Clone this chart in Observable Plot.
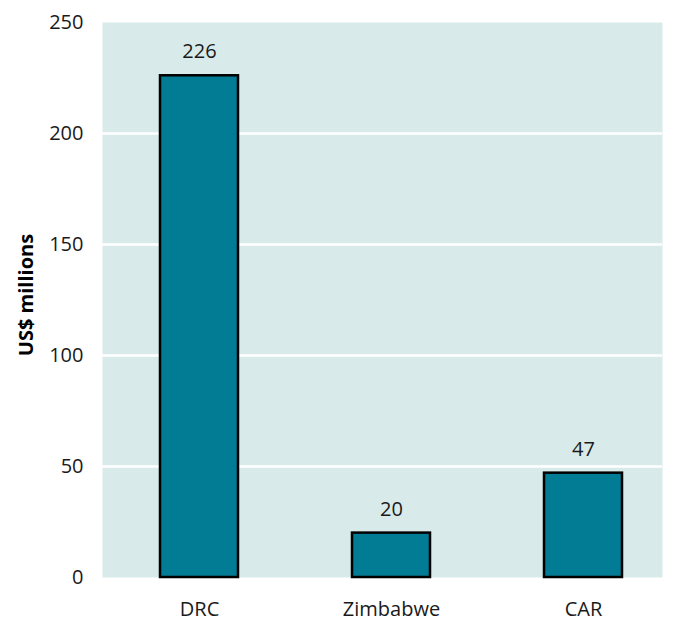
<!DOCTYPE html>
<html>
<head>
<meta charset="utf-8">
<script src="https://cdn.jsdelivr.net/npm/d3@7"></script>
<script src="https://cdn.jsdelivr.net/npm/@observablehq/plot@0.6"></script>
<style>
  html, body { margin: 0; padding: 0; background: #ffffff; }
  #chart svg { display: block; }
</style>
</head>
<body>
<div id="chart"></div>
<script>
const countries = ["DRC", "Zimbabwe", "CAR"];
const values = [226, 20, 47];
const yTicks = [0, 50, 100, 150, 200, 250];
const yLabel = "US$ millions";

const data = countries.map((c, i) => ({country: c, value: values[i]}));

const chart = Plot.plot({
  width: 681,
  height: 621,
  marginLeft: 102,
  marginRight: 19,
  marginTop: 22,
  marginBottom: 44,
  style: {fontFamily: "'Open Sans', 'Noto Sans', sans-serif", fontSize: "20px", color: "#1a1a1a", background: "#ffffff"},
  x: {domain: countries, paddingInner: 0.595, paddingOuter: 0.25, align: 0.59, label: null},
  y: {domain: [0, 250], ticks: yTicks, label: null},
  marks: [
    Plot.frame({fill: "#d9eaea", stroke: null}),
    Plot.gridY(yTicks.filter(d => d > 0 && d < 250), {stroke: "#ffffff", strokeWidth: 2.5, strokeOpacity: 1}),
    Plot.axisY({ticks: yTicks, tickSize: 0, tickPadding: 19, fontSize: 20, label: null}),
    Plot.axisX({tickSize: 0, tickPadding: 24, fontSize: 20, label: null}),
    Plot.barY(data, {x: "country", y: "value", fill: "#027b95", stroke: "#000000", strokeWidth: 2.5}),
    Plot.text(data, {x: "country", y: "value", text: d => String(d.value), dy: -24, fontSize: 20, fill: "#1a1a1a"}),
    Plot.text([yLabel], {frameAnchor: "left", textAnchor: "middle", dx: -76, dy: -5, rotate: -90, text: d => d, fontWeight: "bold", fontSize: 20, fill: "#000000"})
  ]
});
document.getElementById("chart").appendChild(chart);
</script>
</body>
</html>
